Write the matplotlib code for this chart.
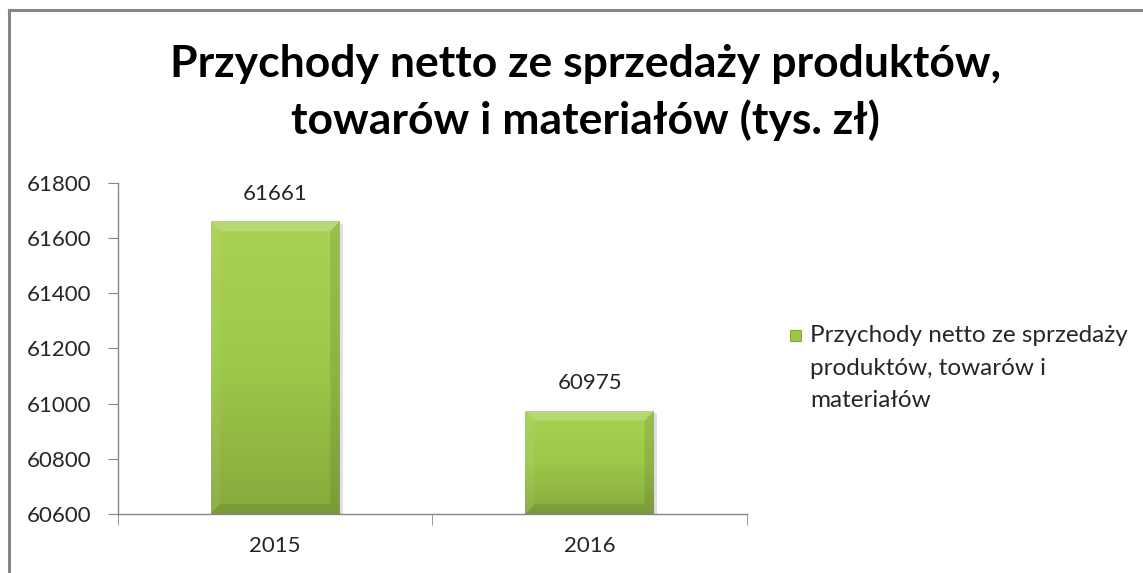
import numpy as np
import matplotlib.pyplot as plt
from matplotlib.patches import Rectangle, Polygon
from matplotlib.colors import LinearSegmentedColormap

plt.rcParams['font.family'] = ['Lato', 'DejaVu Sans']

years = ['2015', '2016']
values = [61661, 60975]
y_ticks = [60600, 60800, 61000, 61200, 61400, 61600, 61800]
title = 'Przychody netto ze sprzedaży produktów,\ntowarów i materiałów (tys. zł)'
legend_label = 'Przychody netto ze sprzedaży\nproduktów, towarów i\nmateriałów'

fig = plt.figure(figsize=(11.43, 5.73), dpi=100)
ax = fig.add_axes([0.1032, 0.103, 0.5503, 0.5776])

x = np.arange(len(years))
bars = ax.bar(x, [v - y_ticks[0] for v in values], bottom=y_ticks[0], width=0.41,
              color='#9CC94A', edgecolor='none', zorder=2)

grad = LinearSegmentedColormap.from_list('g', ['#88AB3D', '#9CC849', '#A8D253'])

# gradient + bevel effect on each bar
bx, by = 0.03, 36
for b in bars:
    x0, y0 = b.get_x(), b.get_y()
    x1, y1 = x0 + b.get_width(), y0 + b.get_height()
    # soft shadow on the right
    ax.add_patch(Rectangle((x1, y0), 0.01, y1 - y0 - 10, color='#e0e0e0', zorder=1, lw=0))
    im = ax.imshow(np.linspace(0, 1, 100).reshape(-1, 1), extent=[x0, x1, y0, y1], origin='lower',
                   cmap=grad, aspect='auto', zorder=2.5)
    im.set_clip_path(b)
    faces = [
        ([(x0, y1), (x1, y1), (x1 - bx, y1 - by), (x0 + bx, y1 - by)], 'white', 0.18),
        ([(x0, y0), (x0, y1), (x0 + bx, y1 - by), (x0 + bx, y0 + by)], 'white', 0.06),
        ([(x1, y0), (x1, y1), (x1 - bx, y1 - by), (x1 - bx, y0 + by)], 'black', 0.09),
        ([(x0, y0), (x1, y0), (x1 - bx, y0 + by), (x0 + bx, y0 + by)], 'black', 0.09),
    ]
    for pts, c, a in faces:
        ax.add_patch(Polygon(pts, closed=True, facecolor=c, alpha=a, lw=0, zorder=3))
    ax.text(x0 + b.get_width() / 2, y1 + 100, f'{int(y1)}', ha='center', va='center',
            fontsize=16, color='#262626')

ax.set_ylim(y_ticks[0], y_ticks[-1])
ax.set_yticks(y_ticks)
ax.set_yticklabels([str(t) for t in y_ticks])
ax.set_xlim(-0.5, len(years) - 0.5)
ax.set_xticks(x)
ax.set_xticklabels(years)
ax.set_xticks(np.arange(-0.5, len(years), 1.0), minor=True)
ax.tick_params(axis='x', which='major', length=0, pad=16, labelsize=16, labelcolor='#262626')
ax.tick_params(axis='x', which='minor', length=8, color='#868686', direction='out')
ax.tick_params(axis='y', length=7, color='#868686', pad=12, labelsize=16, labelcolor='#262626')
for s in ['top', 'right']:
    ax.spines[s].set_visible(False)
for s in ['left', 'bottom']:
    ax.spines[s].set_color('#868686')
    ax.spines[s].set_linewidth(1)

fig.text(0.512, 0.838, title, ha='center', va='center', fontsize=32, fontweight='bold',
         color='black', linespacing=1.45)

# legend
fig.patches.append(Rectangle((790 / 1143, 1 - 341 / 573), 11 / 1143, 11 / 573,
                             transform=fig.transFigure, facecolor='#9CC94A',
                             edgecolor='#7FA832', lw=0.8))
fig.text(810 / 1143, 1 - 325 / 573, legend_label, ha='left', va='top', fontsize=17.5,
         color='#262626', linespacing=1.68)

# chart border
fig.add_artist(plt.Line2D([9 / 1143, 9 / 1143], [0, 1 - 9.5 / 573], transform=fig.transFigure,
                          color='#868686', lw=2.2))
fig.add_artist(plt.Line2D([9 / 1143, 1], [1 - 9.5 / 573, 1 - 9.5 / 573], transform=fig.transFigure,
                          color='#868686', lw=2.2))

fig.savefig('out.png', dpi=100)
